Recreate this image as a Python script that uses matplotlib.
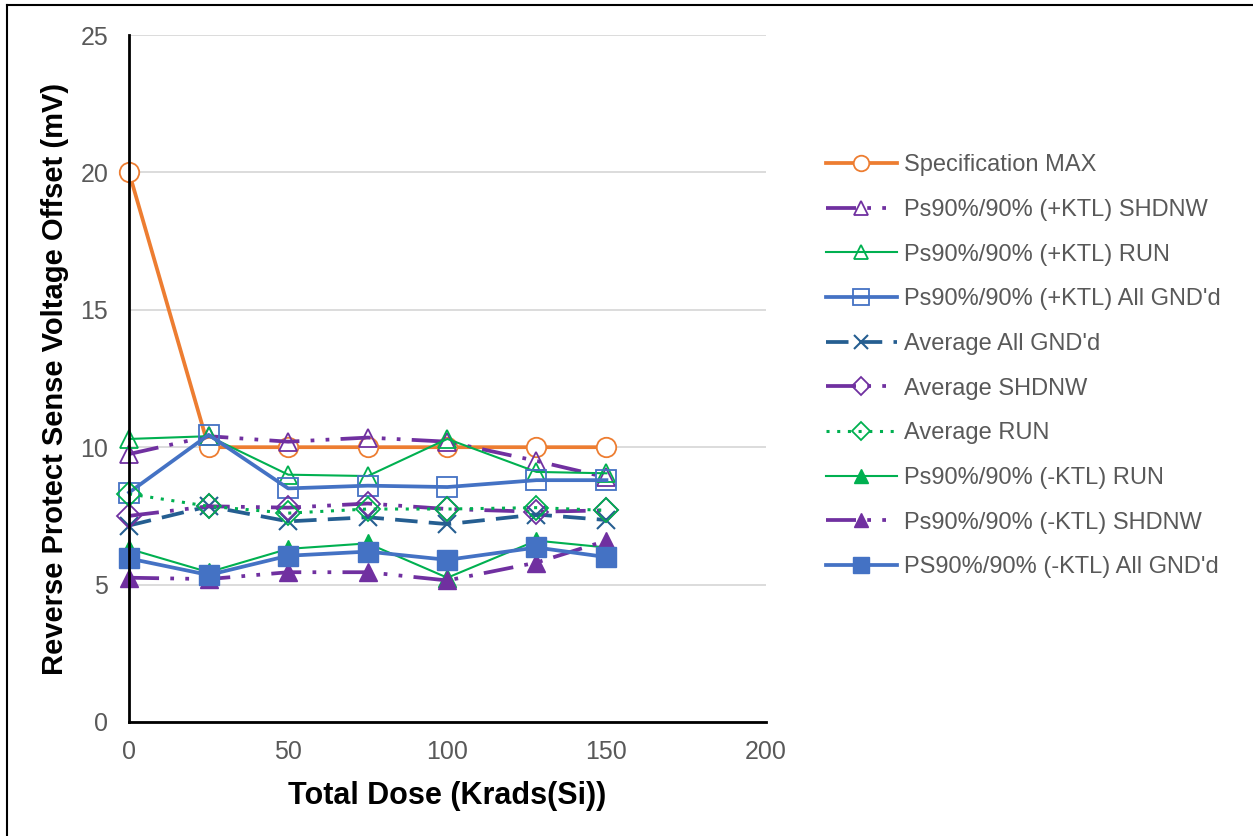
import matplotlib
matplotlib.use("Agg")
import matplotlib.pyplot as plt
from matplotlib.lines import Line2D

plt.rcParams['font.family'] = ['Liberation Sans', 'DejaVu Sans']

# data
dose = [0, 25, 50, 75, 100, 128, 150]
spec_max = [20, 10, 10, 10, 10, 10, 10]
pos_shdnw = [9.75, 10.4, 10.2, 10.35, 10.2, 9.5, 8.9]
pos_run = [10.3, 10.4, 9.0, 8.95, 10.3, 9.1, 9.05]
pos_gnd = [8.35, 10.45, 8.5, 8.6, 8.55, 8.8, 8.8]
avg_gnd = [7.15, 7.85, 7.3, 7.45, 7.2, 7.55, 7.35]
avg_shdnw = [7.5, 7.85, 7.8, 7.95, 7.75, 7.65, 7.7]
avg_run = [8.3, 7.85, 7.6, 7.75, 7.75, 7.8, 7.7]
neg_run = [6.3, 5.45, 6.3, 6.5, 5.25, 6.6, 6.35]
neg_shdnw = [5.25, 5.2, 5.45, 5.45, 5.15, 5.8, 6.6]
neg_gnd = [5.95, 5.35, 6.05, 6.2, 5.9, 6.35, 6.0]

labels = ["Specification MAX", "Ps90%/90% (+KTL) SHDNW", "Ps90%/90% (+KTL) RUN",
          "Ps90%/90% (+KTL) All GND'd", "Average All GND'd", "Average SHDNW",
          "Average RUN", "Ps90%/90% (-KTL) RUN", "Ps90%/90% (-KTL) SHDNW",
          "PS90%/90% (-KTL) All GND'd"]

orange = '#ED7D31'
purple = '#7030A0'
green = '#00B050'
blue = '#4472C4'
dblue = '#255E91'
dashdotdot = (0, (8, 3, 1, 3, 1, 3))
thick = 2.7

fig = plt.figure(figsize=(12.53, 8.36), dpi=100)
ax = fig.add_axes([0.103, 0.1364, 0.508, 0.8217])

kw = dict(clip_on=False)
ax.plot(dose, spec_max, color=orange, lw=thick, marker='o', ms=14, mfc='white', mec=orange, mew=1.3, label=labels[0], **kw)
ax.plot(dose, pos_shdnw, color=purple, lw=thick, ls=dashdotdot, marker='^', ms=13, mfc='none', mec=purple, mew=1.3, label=labels[1], **kw)
ax.plot(dose, pos_run, color=green, lw=1.5, marker='^', ms=13, mfc='none', mec=green, mew=1.3, label=labels[2], **kw)
ax.plot(dose, pos_gnd, color=blue, lw=thick, marker='s', ms=14, mfc='none', mec=blue, mew=1.3, label=labels[3], **kw)
ax.plot(dose, avg_gnd, color=dblue, lw=thick, ls=(0, (6, 3)), marker='x', ms=13, mec=dblue, mew=1.5, label=labels[4], **kw)
ax.plot(dose, avg_shdnw, color=purple, lw=thick, ls=dashdotdot, marker='D', ms=12, mfc='none', mec=purple, mew=1.3, label=labels[5], **kw)
ax.plot(dose, avg_run, color=green, lw=2.2, ls=(0, (1, 2.5)), marker='D', ms=12, mfc='none', mec=green, mew=1.3, label=labels[6], **kw)
ax.plot(dose, neg_run, color=green, lw=1.5, marker='^', ms=13, mfc=green, mec=green, label=labels[7], **kw)
ax.plot(dose, neg_shdnw, color=purple, lw=thick, ls=dashdotdot, marker='^', ms=13, mfc=purple, mec=purple, label=labels[8], **kw)
ax.plot(dose, neg_gnd, color=blue, lw=thick, marker='s', ms=14, mfc=blue, mec=blue, label=labels[9], **kw)

ax.set_xlim(0, 200)
ax.set_ylim(0, 25)
ax.set_xticks([0, 50, 100, 150, 200])
ax.set_yticks([0, 5, 10, 15, 20, 25])
ax.grid(axis='y', color='#D9D9D9', lw=1.3)
ax.set_axisbelow(True)
for s in ['top', 'right']:
    ax.spines[s].set_visible(False)
for s in ['left', 'bottom']:
    ax.spines[s].set_color('black')
    ax.spines[s].set_linewidth(2)
ax.tick_params(length=0, labelsize=18, labelcolor='#595959')
ax.tick_params(axis='y', pad=15)
ax.tick_params(axis='x', pad=13)
ax.set_xlabel("Total Dose (Krads(Si))", fontsize=22, fontweight='bold', labelpad=12)
ax.set_ylabel("Reverse Protect Sense Voltage Offset (mV)", fontsize=21, fontweight='bold', labelpad=8)

ax.legend(loc='center left', bbox_to_anchor=(0.659, 0.562), bbox_transform=fig.transFigure,
          frameon=False, fontsize=17, labelcolor='#595959', handlelength=3.0, handletextpad=0.3,
          labelspacing=0.96, borderpad=0, borderaxespad=0, markerscale=0.8)

# outer frame (left and top edges visible in the picture)
fig.add_artist(Line2D([0.0056, 0.0056], [0, 0.994], transform=fig.transFigure, color='black', lw=1.5))
fig.add_artist(Line2D([0.0056, 1], [0.994, 0.994], transform=fig.transFigure, color='black', lw=1.5))

fig.savefig("out.png", dpi=100)
